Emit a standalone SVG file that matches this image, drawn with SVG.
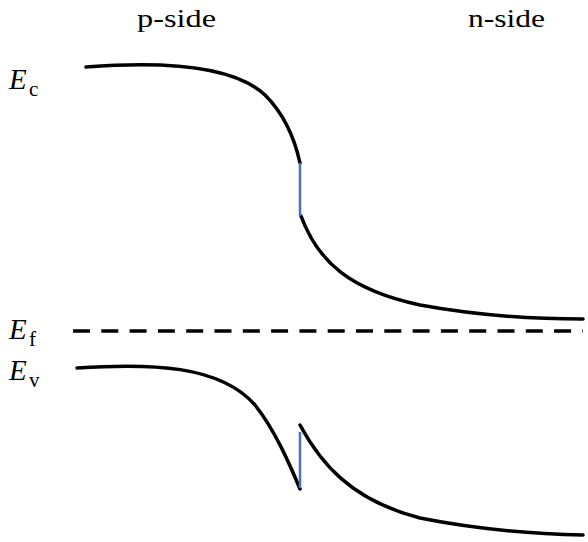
<svg xmlns="http://www.w3.org/2000/svg" width="588" height="542" viewBox="0 0 588 542">
<style>
.band{fill:none;stroke:#000;stroke-width:3.5;stroke-linecap:round}
.jump{fill:none;stroke:#4472C4;stroke-width:2.5}
.fermi{fill:none;stroke:#000;stroke-width:3.5;stroke-dasharray:17 11.3}
</style>
<rect width="588" height="542" fill="#fff"/>
<g id="labels" font-family="Liberation Serif, serif">
<text x="137" y="27" font-size="25" textLength="79" lengthAdjust="spacingAndGlyphs">p-side</text>
<text x="468" y="27" font-size="25" textLength="77" lengthAdjust="spacingAndGlyphs">n-side</text>
</g>
<g id="Ec-label" font-family="Liberation Serif, serif"><text x="9" y="89" font-size="29" font-style="italic">E</text><text x="29" y="96" font-size="21">c</text></g>
<g id="Ef-label" font-family="Liberation Serif, serif"><text x="9" y="339" font-size="29" font-style="italic">E</text><text x="29" y="346" font-size="21">f</text></g>
<g id="Ev-label" font-family="Liberation Serif, serif"><text x="9" y="380" font-size="29" font-style="italic">E</text><text x="29" y="387" font-size="21">v</text></g>
<g id="connectors">
<path class="band" d="M86,67 C150,62 230,62 265,95 C285,115 295,140 300,163"/>
<path class="band" d="M301,216 C318,262 350,290 420,305 C480,316 540,319 583,319"/>
<line class="fermi" x1="73" y1="331" x2="583" y2="331"/>
<path class="band" d="M77,368 C150,363 220,365 255,405 C275,430 290,465 300,489"/>
<path class="band" d="M300,425 C320,462 350,500 420,518 C480,530 540,534 583,535"/>
<line class="jump" x1="300" y1="163" x2="300" y2="216"/>
<line class="jump" x1="300" y1="432" x2="300" y2="488"/>
</g>
</svg>
